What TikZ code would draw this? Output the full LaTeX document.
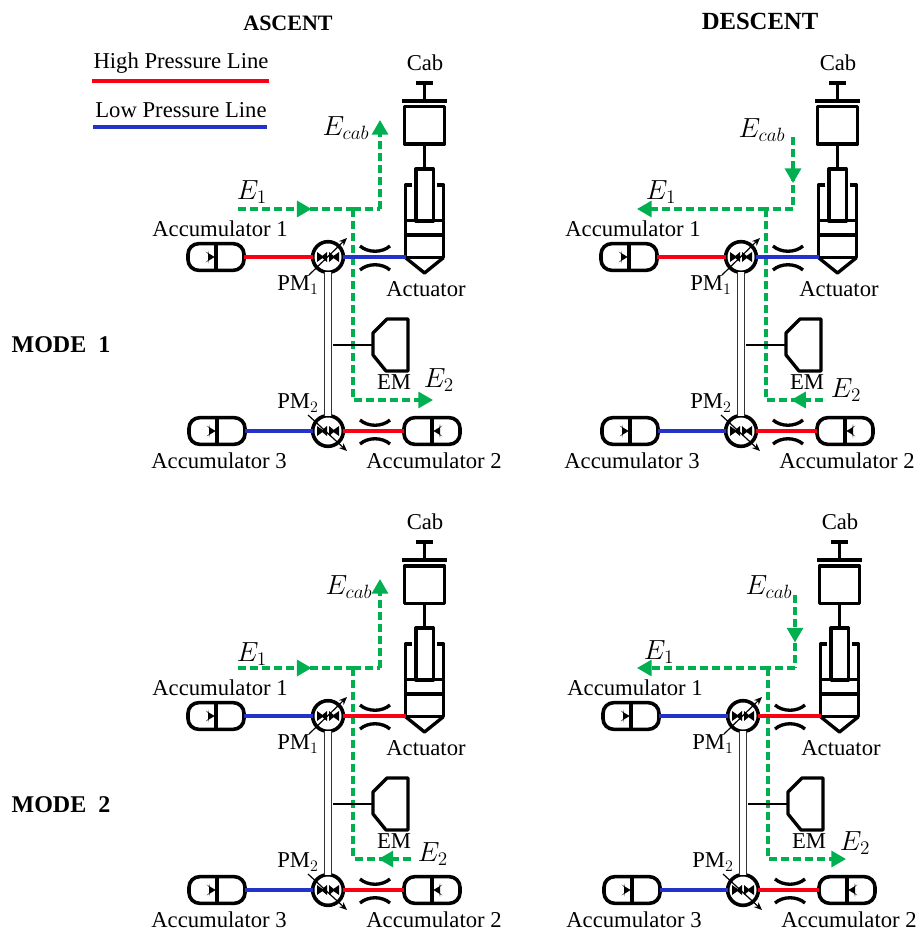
\documentclass[tikz,border=0pt]{standalone}
\usepackage{amsmath}
\usepackage{fontspec}
\setmainfont{Liberation Serif}
\usepackage{xcolor}
\usetikzlibrary{arrows.meta,calc,decorations.markings}
\definecolor{flowgreen}{RGB}{0,176,80}
\definecolor{lowblue}{RGB}{35,50,200}
\definecolor{highred}{RGB}{250,0,20}
\tikzset{
  txt/.style={inner sep=0pt, font=\fontsize{17}{20}\selectfont},
  headtxt/.style={inner sep=0pt, font=\fontsize{17}{20}\selectfont\bfseries},
  flowtxt/.style={inner sep=0pt, font=\fontsize{20}{24}\selectfont},
  part/.style={draw, line width=2.5pt, line join=round},
  bodybox/.style={part, inner sep=0pt, outer sep=0pt},
  accbox/.style={bodybox, line width=2.7pt, rounded corners=8pt, minimum width=42pt, minimum height=20pt},
  accright/.style={accbox, path picture={
    \draw[line width=2.7pt] (path picture bounding box.north) -- (path picture bounding box.south);
    \fill ([xshift=-1pt]path picture bounding box.center) -- ++(-5pt,3pt) -- ++(0,-6pt) -- cycle;}},
  accleft/.style={accbox, path picture={
    \draw[line width=2.7pt] (path picture bounding box.north) -- (path picture bounding box.south);
    \fill ([xshift=1pt]path picture bounding box.center) -- ++(5pt,3pt) -- ++(0,-6pt) -- cycle;}},
  pumpring/.style={bodybox, line width=2.7pt, circle, minimum size=23pt},
  highline/.style={highred, line width=3pt},
  lowline/.style={lowblue, line width=3pt},
  flow/.style={flowgreen, line width=2.4pt, dash pattern=on 6pt off 3pt},
  flowend/.style={flow, -{Triangle[length=11pt,width=12pt]}},
  flowtip/.style={postaction={decorate, decoration={markings,
    mark=at position #1 with {\arrow{Triangle[length=11pt,width=12pt]}}}}},
}
% four small vanes inside a pump
\newcommand\pumpvanes[2]{
  \fill (#1-11,#2-5) -- (#1-4,#2) -- (#1-11,#2+5) -- cycle;
  \fill (#1-1,#2-5) -- (#1-7,#2) -- (#1-1,#2+5) -- cycle;
  \fill (#1+1,#2-5) -- (#1+7,#2) -- (#1+1,#2+5) -- cycle;
  \fill (#1+4,#2) -- (#1+11,#2-5) -- (#1+11,#2+5) -- cycle;
}
% one circuit: prefix, colour styles of the two upper lines, energy paths
\newcommand\driveunit[4]{
  % junctions of the energy paths
  \coordinate (#1join) at (353,209);
  \coordinate (#1bend) at (380,209);
  \coordinate (#1low) at (353,400);
  #4
  \node[accright] (#1acc1) at (216,257) {};
  \node[accright] (#1acc3) at (217,431) {};
  \node[accleft] (#1acc2) at (432,431) {};
  \node[pumpring] (#1pump1) at (328,257) {};
  \node[pumpring] (#1pump2) at (328,431) {};
  \pumpvanes{328}{257}
  \pumpvanes{328}{431}
  \node[bodybox, minimum width=30pt, minimum height=28pt] (#1cabbox) at (424.5,125.5) {};
  \node[bodybox, minimum width=13pt, minimum height=39pt] (#1rod) at (424.5,195) {};
  \node[bodybox, minimum width=28.5pt, minimum height=28pt] (#1cyl) at (424.5,239) {};
  \coordinate (#1captop) at (424.5,83);
  \coordinate (#1plate) at (424.5,101);
  \coordinate (#1tip) at (424.5,273);
  \coordinate (#1tap) at (333,345);
  \coordinate (#1emport) at (373,345);
  \coordinate (#1arrowa) at (309,275);
  \coordinate (#1arrowb) at (347,238);
  \coordinate (#1arrowc) at (308,415);
  \coordinate (#1arrowd) at (347,451);
  \coordinate (#1pistona) at (405.5,235);
  \coordinate (#1pistonb) at (443.5,235);
  % cab and actuator
  \draw[part] (416,83) -- (433,83);
  \draw[part] (#1captop) -- (#1plate);
  \draw[part, line width=3.2pt] (402,101) -- (447,101);
  \draw[part] (#1cabbox.south) -- (#1rod.north);
  \draw[part] (412,185) -- (405.5,185) -- (#1cyl.north west);
  \draw[part] (437,185) -- (443.5,185) -- (#1cyl.north east);
  \draw[part] (#1pistona) -- (#1pistonb);
  \draw[part] (#1cyl.south west) -- (#1tip) -- (#1cyl.south east);
  % electric machine
  \draw[part] (#1emport) -- (373,333) -- (387,319) -- (408,319) -- (408,371) -- (386,371) -- (373,355) -- cycle;
  \draw[part, line width=2.2pt] (#1tap) -- (#1emport);
  \draw[line width=.8pt, black!80, double, double distance=3.8pt] (#1pump1.south) -- (#1pump2.north);
  % hydraulic lines
  \draw[#2] (#1acc1.east) -- (#1pump1.west);
  \draw[#3] (#1pump1.east) -- (#1pump1.east -| #1cyl.south west);
  \draw[lowline] (#1acc3.east) -- (#1pump2.west);
  \draw[highline] (#1pump2.east) -- (#1acc2.west);
  \draw[line width=.9pt, -{Stealth[length=6pt,width=5pt]}] (#1arrowa) -- (#1arrowb);
  \draw[line width=.9pt, -{Stealth[length=6pt,width=5pt]}] (#1arrowc) -- (#1arrowd);
  % orifices
  \draw[part] (360,246) .. controls (368,253) and (382,253) .. (390,246);
  \draw[part] (360,270) .. controls (368,263) and (382,263) .. (390,270);
  \draw[part] (360,420) .. controls (368,427) and (382,427) .. (390,420);
  \draw[part] (360,444) .. controls (368,437) and (382,437) .. (390,444);
  % labels
  \node[txt] (#1labcab) at (425,63) {Cab};
  \node[txt] (#1labacc1) at (220,229) {Accumulator 1};
  \node[txt] (#1labacc3) at (219,461) {Accumulator 3};
  \node[txt] (#1labacc2) at (434,461) {Accumulator 2};
  \node[txt] (#1labact) at (426,289) {Actuator};
  \node[txt] (#1labpma) at (298,285) {PM$_1$};
  \node[txt] (#1labpmb) at (298,403) {PM$_2$};
  \node[txt] (#1labem) at (394,382) {EM};
}
\begin{document}
\begin{tikzpicture}[x=0.75pt, y=-0.75pt]
\useasboundingbox (0,0) rectangle (920,934);

\node[headtxt, font=\fontsize{16.5}{20}\selectfont\bfseries] (ascent) at (288,23) {ASCENT};
\node[headtxt, font=\fontsize{18.5}{20}\selectfont\bfseries] (descent) at (760,21) {DESCENT};
\node[headtxt, font=\fontsize{18}{20}\selectfont\bfseries] (modeone) at (61,345) {MODE\ \ 1};
\node[headtxt, font=\fontsize{18}{20}\selectfont\bfseries] (modetwo) at (61,805) {MODE\ \ 2};

\node[txt] (hightxt) at (181,63) {High Pressure Line};
\node[txt] (lowtxt) at (181,110) {Low Pressure Line};
\coordinate (higha) at (92,81);
\coordinate (highb) at (269,81);
\coordinate (lowa) at (93,127);
\coordinate (lowb) at (267,127);
\draw[highline] (higha) -- (highb);
\draw[lowline] (lowa) -- (lowb);

% mode 1, ascent
\begin{scope}
  \driveunit{a}{highline}{lowline}{
    \coordinate (ae1) at (238,209);
    \coordinate (aecab) at (380,120);
    \coordinate (ae2) at (433,400);
    \draw[flow, flowtip=.64] (ae1) -- (ajoin);
    \draw[flow] (ajoin) -- (abend);
    \draw[flowend] (abend) -- (aecab);
    \draw[flowend] (ajoin) -- (alow) -- (ae2);
  }
  \node[flowtxt] (alabe1) at (252,192) {$E_1$};
  \node[flowtxt] (alabecab) at (346,128) {$E_{cab}$};
  \node[flowtxt] (alabe2) at (439,380) {$E_2$};
\end{scope}

% mode 1, descent
\begin{scope}[shift={(413,0)}]
  \driveunit{b}{highline}{lowline}{
    \coordinate (be1) at (224,209);
    \coordinate (becab) at (380,137);
    \coordinate (be2) at (410,400);
    \draw[flow, flowtip=.64] (becab) -- (bbend);
    \draw[flow] (bbend) -- (bjoin);
    \draw[flowend] (bjoin) -- (be1);
    \draw[flow] (bjoin) -- (blow);
    \draw[flow, flowtip=.56] (be2) -- (blow);
  }
  \node[flowtxt] (blabe1) at (248,192) {$E_1$};
  \node[flowtxt] (blabecab) at (349,130) {$E_{cab}$};
  \node[flowtxt] (blabe2) at (433,390) {$E_2$};
\end{scope}

% mode 2, ascent
\begin{scope}[shift={(0,459)}]
  \driveunit{c}{lowline}{highline}{
    \coordinate (ce1) at (238,209);
    \coordinate (cecab) at (380,120);
    \coordinate (ce2) at (411,400);
    \draw[flow, flowtip=.64] (ce1) -- (cjoin);
    \draw[flow] (cjoin) -- (cbend);
    \draw[flowend] (cbend) -- (cecab);
    \draw[flow] (cjoin) -- (clow);
    \draw[flow, flowtip=.56] (ce2) -- (clow);
  }
  \node[flowtxt] (clabe1) at (252,195) {$E_1$};
  \node[flowtxt] (clabecab) at (349,128) {$E_{cab}$};
  \node[flowtxt] (clabe2) at (433,395) {$E_2$};
\end{scope}

% mode 2, descent
\begin{scope}[shift={(415,459)}]
  \driveunit{d}{lowline}{highline}{
    \coordinate (de1) at (222,209);
    \coordinate (decab) at (380,136);
    \coordinate (de2) at (431,400);
    \draw[flow, flowtip=.65] (decab) -- (dbend);
    \draw[flow] (dbend) -- (djoin);
    \draw[flowend] (djoin) -- (de1);
    \draw[flowend] (djoin) -- (dlow) -- (de2);
  }
  \node[flowtxt] (dlabe1) at (244,193) {$E_1$};
  \node[flowtxt] (dlabecab) at (354,128) {$E_{cab}$};
  \node[flowtxt] (dlabe2) at (440,384) {$E_2$};
\end{scope}
\end{tikzpicture}
\end{document}
